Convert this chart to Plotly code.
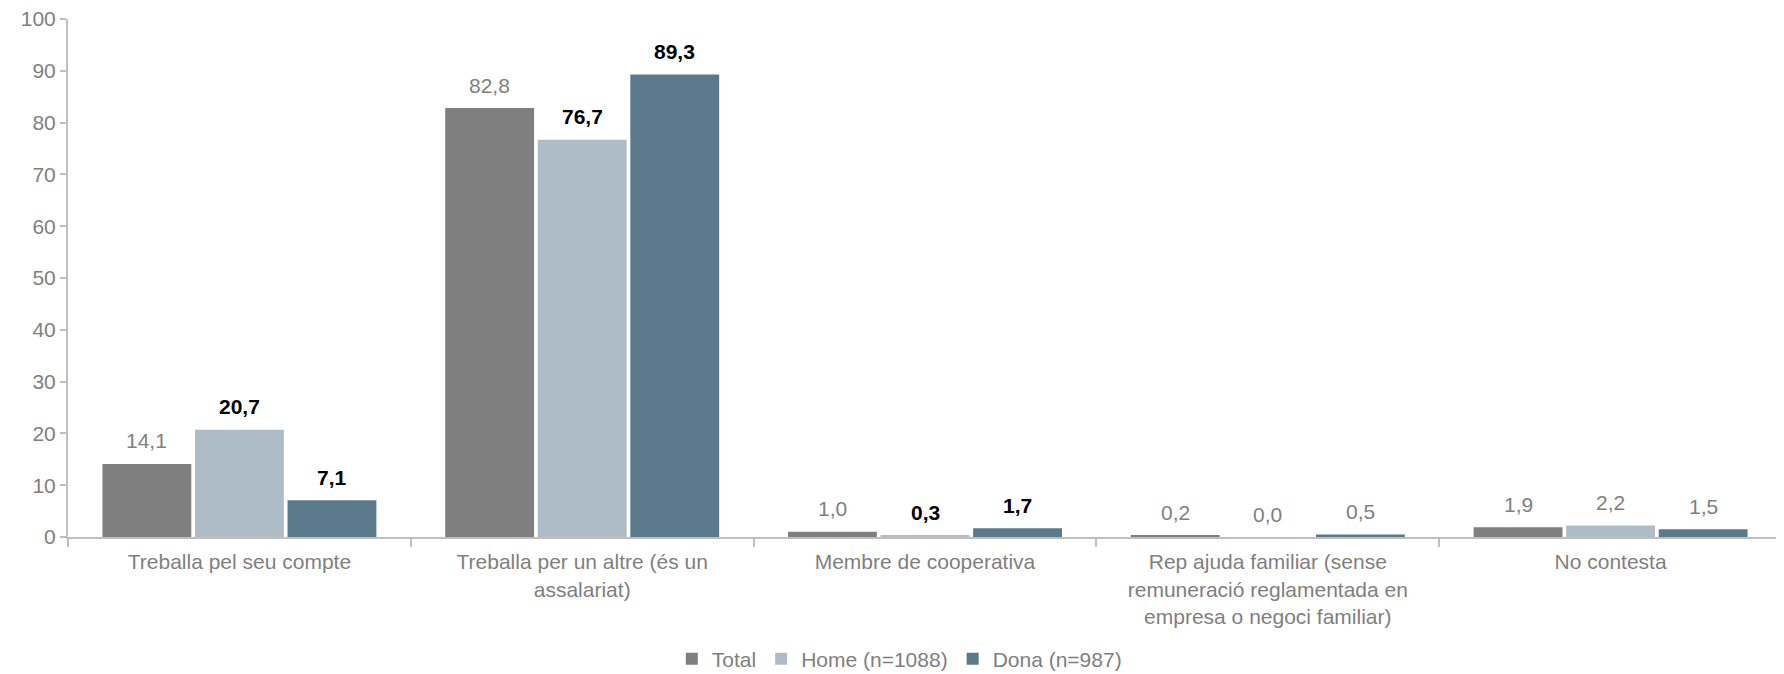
import plotly.graph_objects as go

categories = [
    "Treballa pel seu compte",
    "Treballa per un altre (és un<br>assalariat)",
    "Membre de cooperativa",
    "Rep ajuda familiar (sense<br>remuneració reglamentada en<br>empresa o negoci familiar)",
    "No contesta",
]
series_names = ["Total", "Home (n=1088)", "Dona (n=987)"]
total = [14.1, 82.8, 1.0, 0.2, 1.9]
home = [20.7, 76.7, 0.3, 0.0, 2.2]
dona = [7.1, 89.3, 1.7, 0.5, 1.5]
# bold (significant) flags for data labels
home_bold = [True, True, True, False, False]
dona_bold = [True, True, True, False, False]
total_bold = [False, False, False, False, False]

colors = ["#7f7f7f", "#adbcc7", "#5a7a8c"]
values = [total, home, dona]
bolds = [total_bold, home_bold, dona_bold]

BARGAP = 0.19
GROUPGAP = 0.04
FONT = "Liberation Sans, Arial, sans-serif"

fig = go.Figure()
for name, vals, col in zip(series_names, values, colors):
    fig.add_trace(go.Bar(
        x=categories, y=vals, name=name,
        marker=dict(color=col, line=dict(width=0)),
        hoverinfo="skip",
    ))

n = len(series_names)
slot = (1 - BARGAP) / n
annotations = []
for j, (vals, bl) in enumerate(zip(values, bolds)):
    for i, v in enumerate(vals):
        txt = f"{v:.1f}".replace(".", ",")
        if bl[i]:
            txt = f"<b>{txt}</b>"
            fc = "#000000"
        else:
            fc = "#808080"
        annotations.append(dict(
            x=i + (j - (n - 1) / 2) * slot, y=v, xref="x", yref="y",
            text=txt, showarrow=False, yanchor="middle", xanchor="center",
            yshift=23, font=dict(family=FONT, size=21, color=fc),
        ))

# page body has an 8px default margin, so the figure is offset by 8px
fig.update_layout(
    width=1776, height=666,
    margin=dict(l=60, r=2, t=11, b=137, autoexpand=False),
    paper_bgcolor="white", plot_bgcolor="white",
    barmode="group", bargap=BARGAP, bargroupgap=GROUPGAP,
    font=dict(family=FONT, size=21, color="#7f7f7f"),
    showlegend=True,
    legend=dict(orientation="h", x=0.485, xanchor="center",
                yref="container", y=0.0225, yanchor="middle",
                font=dict(size=21, color="#7f7f7f"), itemwidth=30, traceorder="normal"),
    annotations=annotations,
)
fig.update_xaxes(
    type="category", showline=True, linecolor="#bfbfbf", linewidth=2,
    ticks="outside", tickson="boundaries", ticklen=8, tickcolor="#bfbfbf", tickwidth=2,
    tickfont=dict(size=21, color="#7f7f7f"), showgrid=False, zeroline=False,
    ticklabelstandoff=5, automargin=False,
)
fig.update_yaxes(
    range=[0, 100], dtick=10, showline=True, linecolor="#bfbfbf", linewidth=2,
    ticks="outside", ticklen=6, tickcolor="#bfbfbf", tickwidth=2,
    tickfont=dict(size=21, color="#7f7f7f"), showgrid=False, zeroline=False,
    ticklabeloverflow="allow", automargin=False,
)

fig.write_html("out.html")
